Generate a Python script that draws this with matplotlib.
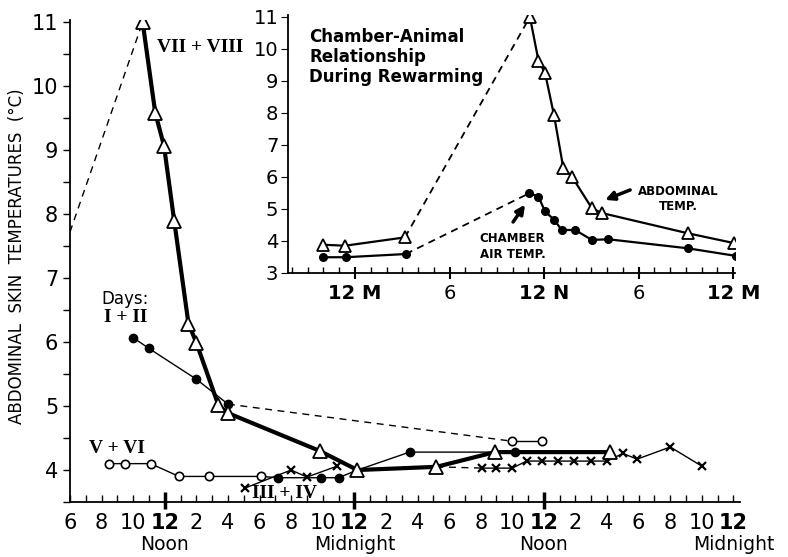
import matplotlib.pyplot as plt
import matplotlib.transforms as mtransforms

# main chart: hours counted from midnight before day 1 (12 = noon, 24 = midnight ...)
# days VII + VIII (open triangles, heavy line)
d78_h = [10.6, 11.4, 11.95, 12.6, 13.5, 14.0, 15.4, 16.0, 21.8, 24.2, 29.2, 32.9, 40.2]
d78_t = [11.0, 9.58, 9.07, 7.89, 6.29, 5.99, 5.01, 4.89, 4.30, 4.0, 4.05, 4.28, 4.28]
d78_lead_h = [6.0, 10.6]
d78_lead_t = [7.72, 11.0]

# days I + II (filled circles)
d12_h = [10.0, 11.0, 14.0, 16.0]
d12_t = [6.07, 5.9, 5.42, 5.03]
d12_gap_h = [16.0, 34.0]
d12_gap_t = [5.03, 4.45]
d12_late_h = [34.0, 35.9]
d12_late_t = [4.45, 4.45]
d12_night_h = [19.2, 21.9, 23.0, 24.2, 27.5, 32.9, 34.2]
d12_night_t = [3.88, 3.88, 3.88, 4.0, 4.28, 4.28, 4.28]
d12_night_marks = [0, 1, 2, 4, 6]

# days V + VI (open circles)
d56_h = [8.5, 9.5, 11.1, 12.9, 14.8, 18.1, 19.2]
d56_t = [4.1, 4.1, 4.1, 3.9, 3.9, 3.9, 3.88]
d56_marks = [0, 1, 2, 3, 4, 5]

# days III + IV (crosses)
d34a_h = [17.1, 20.0, 21.0, 22.9]
d34a_t = [3.72, 4.0, 3.89, 4.06]
d34_gap_h = [29.2, 32.1]
d34_gap_t = [4.05, 4.03]
d34b_h = [32.1, 33.0, 34.0, 34.9, 35.9, 36.9, 37.9, 39.0, 40.0, 41.0, 41.9, 44.0, 46.0]
d34b_t = [4.03, 4.03, 4.03, 4.14, 4.14, 4.14, 4.14, 4.14, 4.14, 4.26, 4.17, 4.36, 4.06]

hour_labels = ['6', '8', '10', '12', '2', '4', '6', '8', '10', '12', '2', '4',
               '6', '8', '10', '12', '2', '4', '6', '8', '10', '12']
day_marks = [12, 24, 36, 48]
day_names = ['Noon', 'Midnight', 'Noon', 'Midnight']

# inset: chamber-animal relationship
abd_h = [21.97, 23.37, 27.17, 35.1, 35.64, 36.06, 36.63, 37.22, 37.76, 39.03, 39.66, 45.1, 48.06]
abd_t = [3.88, 3.85, 4.11, 10.99, 9.63, 9.24, 7.92, 6.27, 6.01, 5.02, 4.87, 4.24, 3.93]
air_h = [21.95, 23.41, 27.22, 35.07, 35.64, 36.06, 36.63, 37.12, 37.97, 39.03, 40.08, 45.1, 48.19]
air_t = [3.49, 3.49, 3.59, 5.49, 5.38, 4.92, 4.66, 4.34, 4.34, 4.03, 4.05, 3.77, 3.53]
inset_ticks = [24, 30, 36, 42, 48]
inset_labels = ['12 M', '6', '12 N', '6', '12 M']

plt.rcParams['font.family'] = ['DejaVu Sans']
fig = plt.figure(figsize=(7.88, 5.57), dpi=100)
ax = fig.add_axes([0.0888, 0.0987, 0.850, 0.865])

dash = (0, (5, 4))
ax.plot(d78_lead_h, d78_lead_t, color='black', lw=1, ls=dash)
ax.plot(d78_h, d78_t, color='black', lw=3, marker='^', ms=10, mfc='white', mec='black', mew=1.3, zorder=4)

ax.plot(d12_h, d12_t, color='black', lw=1, marker='o', ms=6, zorder=3)
ax.plot(d12_gap_h, d12_gap_t, color='black', lw=1, ls=dash)
ax.plot(d12_late_h, d12_late_t, color='black', lw=1, marker='o', ms=6, mfc='white', mew=1.2, zorder=3)
ax.plot(d12_night_h, d12_night_t, color='black', lw=1, marker='o', ms=6, markevery=d12_night_marks, zorder=3)

ax.plot(d56_h, d56_t, color='black', lw=1, marker='o', ms=6, mfc='white', mew=1.2, markevery=d56_marks, zorder=3)

ax.plot(d34a_h, d34a_t, color='black', lw=1, marker='x', ms=6, mew=1.6, zorder=3)
ax.plot(d34_gap_h, d34_gap_t, color='black', lw=1, ls=dash)
ax.plot(d34b_h, d34b_t, color='black', lw=1, marker='x', ms=6, mew=1.6, zorder=3)

ax.set_xlim(6, 48.4)
ax.set_ylim(3.5, 11.03)
ax.spines['top'].set_visible(False)
ax.spines['right'].set_visible(False)
ax.spines['left'].set_linewidth(1.3)
ax.spines['bottom'].set_linewidth(1.3)

ax.set_yticks(range(4, 12))
ax.set_yticks([x + 0.5 for x in range(3, 11)], minor=True)
ax.tick_params(axis='y', which='both', direction='out', length=5, labelsize=15, width=1)

xt = list(range(6, 49, 2))
ax.set_xticks(xt, hour_labels)
ax.set_xticks(range(6, 49), minor=True)
ax.tick_params(axis='x', which='both', direction='in', length=5, labelsize=15, width=1, pad=8)
for lab, v in zip(ax.get_xticklabels(), xt):
    if v % 12 == 0:
        lab.set_fontweight('bold')

trans = mtransforms.blended_transform_factory(ax.transData, ax.transAxes)
ax.vlines(day_marks[:-1], -0.015, 0.02, transform=trans, color='black', lw=2.5, clip_on=False)
for h, name in zip(day_marks, day_names):
    ax.text(h, -0.088, name, transform=trans, ha='center', va='center', fontsize=13.5)

fig.text(0.022, 0.54, 'ABDOMINAL  SKIN  TEMPERATURES  (°C)', rotation=90,
         ha='center', va='center', fontsize=12)

roman = dict(family=['Liberation Serif'], fontweight='bold', fontsize=14)
ax.text(11.5, 10.6, 'VII + VIII', ha='left', va='center', **roman)
ax.text(9.5, 6.67, 'Days:', ha='center', va='center', fontsize=12)
ax.text(9.5, 6.38, 'I + II', ha='center', va='center', **roman)
ax.text(9.0, 4.34, 'V + VI', ha='center', va='center', **roman)
ax.text(19.6, 3.64, 'III + IV', ha='center', va='center', **roman)

# inset
ins = fig.add_axes([0.3655, 0.51, 0.567, 0.463])
ins.plot(abd_h[2:4], abd_t[2:4], color='black', lw=1.3, ls=(0, (4, 3)))
ins.plot(air_h[2:4], air_t[2:4], color='black', lw=1.3, ls=(0, (4, 3)))
ins.plot(abd_h[:3], abd_t[:3], color='black', lw=1.6, marker='^', ms=8, mfc='white', mew=1.3)
ins.plot(abd_h[3:], abd_t[3:], color='black', lw=1.6, marker='^', ms=8, mfc='white', mew=1.3)
ins.plot(air_h[:3], air_t[:3], color='black', lw=1.6, marker='o', ms=5.5)
ins.plot(air_h[3:], air_t[3:], color='black', lw=1.6, marker='o', ms=5.5)

ins.set_xlim(19.75, 48.1)
ins.set_ylim(3, 11.05)
ins.patch.set_alpha(0)
ins.spines['top'].set_visible(False)
ins.spines['right'].set_visible(False)
ins.spines['left'].set_linewidth(1.3)
ins.spines['bottom'].set_linewidth(1.3)
ins.set_yticks(range(3, 12))
ins.tick_params(axis='y', direction='out', length=5, labelsize=14, pad=2)
ins.set_xticks(inset_ticks, inset_labels)
ins.set_xticks(range(20, 49), minor=True)
ins.tick_params(axis='x', which='major', direction='inout', length=8, width=1.5, labelsize=14, pad=4)
ins.tick_params(axis='x', which='minor', direction='in', length=4, width=1)
for lab, name in zip(ins.get_xticklabels(), inset_labels):
    if name.startswith('12'):
        lab.set_fontweight('bold')

ins.text(21.1, 9.75, 'Chamber-Animal\nRelationship\nDuring Rewarming', ha='left', va='center',
         fontsize=12, fontweight='bold', linespacing=1.15)
ins.text(44.5, 5.3, 'ABDOMINAL\nTEMP.', ha='center', va='center',
         fontsize=8.5, fontweight='bold', linespacing=1.2)
ins.text(34.0, 3.81, 'CHAMBER\nAIR TEMP.', ha='center', va='center',
         fontsize=8.5, fontweight='bold', linespacing=1.3)
arrow = dict(arrowstyle='-|>', color='black', lw=2.5, mutation_scale=13, shrinkA=0, shrinkB=0)
ins.annotate('', xy=(39.87, 5.28), xytext=(41.46, 5.59), arrowprops=arrow)
ins.annotate('', xy=(34.79, 5.13), xytext=(34.03, 4.59), arrowprops=arrow)

fig.savefig('out.png', dpi=100)
